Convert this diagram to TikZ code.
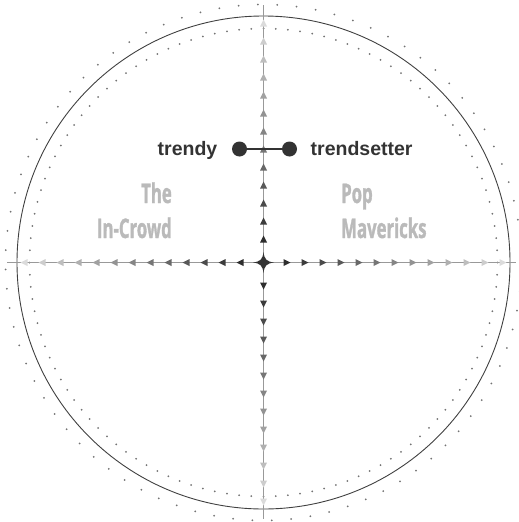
\documentclass[tikz,border=0pt]{standalone}
\usepackage{fontspec}
\usetikzlibrary{calc}
\setmainfont{Liberation Sans}
\newfontfamily\condfont[FakeStretch=0.62,FakeBold=1.2]{Open Sans}
\begin{document}
\begin{tikzpicture}[x=1pt,y=-1pt,
  axisline/.style={draw=black!40,line width=1.6pt},
  ringline/.style={draw=black!75,line width=0.9pt},
  ringdot/.style={fill=black!55},
  pole/.style={circle,fill=black!80,inner sep=0pt,minimum size=15pt},
  poleline/.style={draw=black!80,line width=1.8pt},
  lab/.style={text=black!80,font=\bfseries\fontsize{19.5}{23}\selectfont,inner sep=0pt},
  quad/.style={text=black!27,font=\condfont\bfseries\fontsize{27}{30}\selectfont,inner sep=0pt}]
\useasboundingbox (0,0) rectangle (519,522);
\coordinate (C) at (263.5,262.5);
\coordinate (L) at (7,262.5);
\coordinate (R) at (516,262.5);
\coordinate (T) at (263.5,5);
\coordinate (B) at (263.5,519);
% rings
\draw[ringline] (C) circle[radius=246.5pt];
\foreach \a in {0,3,...,357}{
  \fill[ringdot] ($(C)+(\a:234)$) circle[radius=1pt];
}
\foreach \a in {2.15,6.45,...,360}{
  \fill[ringdot] ($(C)+(\a:258)$) circle[radius=1pt];
}
% axes
\draw[axisline] (L) -- (R);
\draw[axisline] (T) -- (B);
% markers
\foreach \dx/\dy in {1/0,-1/0,0/1,0/-1}{
  \foreach \i in {0,...,12}{
    \pgfmathsetmacro{\r}{23+18*\i}
    \pgfmathsetmacro{\p}{82-68*\i/12}
    \fill[black!\p] ($(C)+({(\r+4)*\dx},{(\r+4)*\dy})$)
      -- ($(C)+({(\r-3)*\dx-3.5*\dy},{(\r-3)*\dy+3.5*\dx})$)
      -- ($(C)+({(\r-3)*\dx+3.5*\dy},{(\r-3)*\dy-3.5*\dx})$) -- cycle;
  }
}
% centre star
\fill[black!80] ($(C)+(-10.5,0)$) .. controls ($(C)+(-3,-1)$) and ($(C)+(-1,-3)$) .. ($(C)+(0,-10.5)$)
  .. controls ($(C)+(1,-3)$) and ($(C)+(3,-1)$) .. ($(C)+(10.5,0)$)
  .. controls ($(C)+(3,1)$) and ($(C)+(1,3)$) .. ($(C)+(0,10.5)$)
  .. controls ($(C)+(-1,3)$) and ($(C)+(-3,1)$) .. cycle;
% trendy poles
\node[pole] (d1) at (239.5,149) {};
\node[pole] (d2) at (289.5,149) {};
\draw[poleline] (d1) -- (d2);
\node[lab,anchor=base east] (t1) at (217.5,155) {trendy};
\node[lab,anchor=base west] (t2) at (310.5,155) {trendsetter};
% quadrant labels
\node[quad,anchor=base east] (q1) at (172,203) {The};
\node[quad,anchor=base east] (q2) at (172,238) {In-Crowd};
\node[quad,anchor=base west] (q3) at (341,203) {Pop};
\node[quad,anchor=base west] (q4) at (341,238) {Mavericks};
\end{tikzpicture}
\end{document}
